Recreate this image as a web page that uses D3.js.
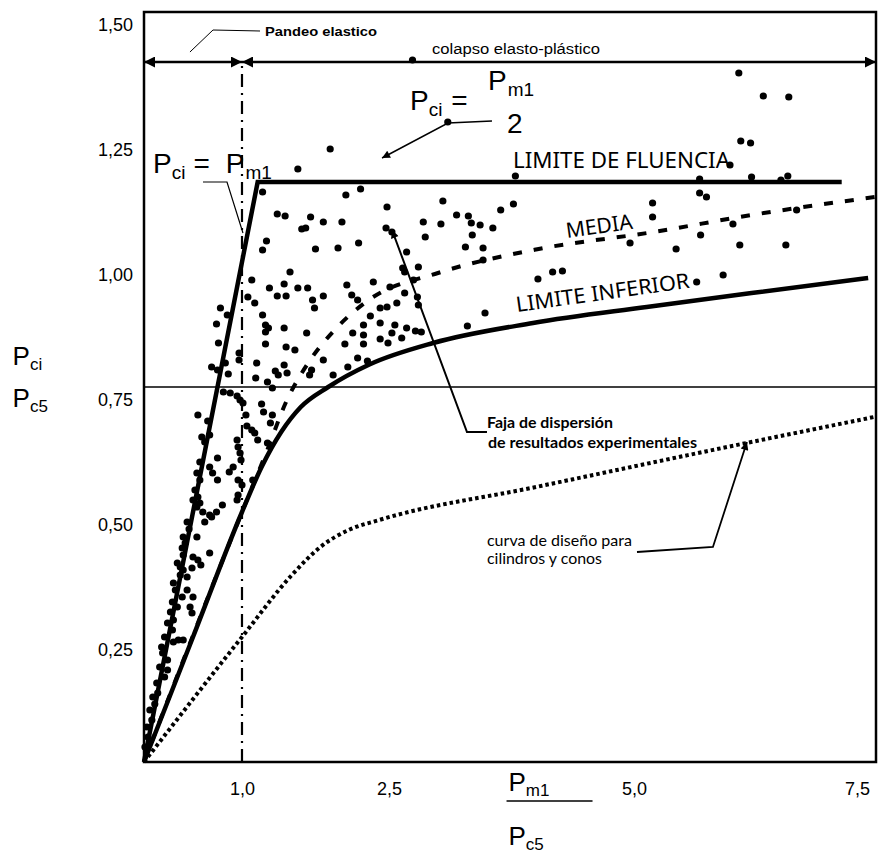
<!DOCTYPE html>
<html>
<head>
<meta charset="utf-8">
<style>
  body { margin: 0; background: #fff; }
  svg { display: block; }
  .num { font-family: "Liberation Sans", Arial, sans-serif; fill: #000; }
  .nota { font-family: "Noto Sans", sans-serif; fill: #000; }
  .chica { font-family: Lato, sans-serif; fill: #000; }
</style>
<script src="https://cdn.jsdelivr.net/npm/d3@7/dist/d3.min.js"></script>
<title>Pci/Pc5 vs Pm1/Pc5</title>
</head>
<body>
<div id="chart"></div>
<script>
// resultados experimentales: [Pm1/Pc5, Pci/Pc5]
const ensayos = [
  [2.74,1.404],[1.90,1.226],[1.57,1.186],[3.10,1.28],[3.79,1.172],
  [6.07,1.378],[6.32,1.332],[6.58,1.33],[6.09,1.242],[6.19,1.238],
  [5.98,1.194],[5.67,1.166],[6.20,1.17],[6.57,1.172],[6.50,1.164],
  [1.21,1.14],[2.06,1.134],[2.21,1.146],[1.36,1.096],[1.44,1.092],
  [1.70,1.09],[1.83,1.08],[2.02,1.08],[1.61,1.066],[1.65,1.068],
  [2.48,1.11],[2.47,1.068],[2.53,1.06],[2.85,1.08],[3.05,1.122],
  [3.03,1.076],[2.87,1.05],[3.19,1.094],[3.31,1.092],[3.34,1.078],
  [3.43,1.074],[3.56,1.068],[3.35,1.054],[3.64,1.104],[3.77,1.116],
  [2.19,1.038],[1.75,1.026],[1.98,1.028],[3.28,1.03],[3.46,1.028],
  [1.25,1.042],[1.21,1.024],[2.68,1.02],[2.64,0.988],[2.66,0.98],
  [2.80,0.99],[2.75,0.964],[2.79,0.93],[2.80,0.914],[3.46,1.004],
  [4.02,0.966],[4.17,0.98],[4.27,0.982],[3.48,0.898],[3.30,0.872],
  [4.96,1.038],[5.19,1.118],[5.19,1.09],[5.67,1.138],[5.74,1.13],
  [6.01,1.076],[5.68,1.054],[6.66,1.104],[5.43,1.026],[6.08,1.034],
  [6.55,1.034],[5.91,0.974],[5.64,0.96],
  [1.49,0.98],[1.10,0.964],[1.43,0.956],[1.28,0.948],[1.57,0.948],
  [1.67,0.948],[1.36,0.932],[1.45,0.932],[1.06,0.93],[1.13,0.918],
  [1.72,0.924],[1.74,0.908],[1.83,0.932],[2.07,0.954],[2.12,0.934],
  [2.18,0.924],[2.34,0.96],[2.51,0.95],[2.66,0.938],[2.58,0.918],
  [2.41,0.908],[2.48,0.91],[2.31,0.892],[2.24,0.874],[2.41,0.878],
  [2.56,0.874],[2.68,0.868],[2.77,0.862],[2.83,0.86],[2.13,0.858],
  [2.24,0.854],[2.53,0.858],[2.41,0.846],[2.49,0.838],[2.63,0.848],
  [2.05,0.836],[2.24,0.836],[1.66,0.858],[1.83,0.804],[2.18,0.808],
  [2.28,0.802],[2.08,0.79],[1.71,0.784],[1.69,0.774],[1.93,0.774],
  [0.78,0.908],[0.85,0.894],[1.21,0.894],[0.74,0.876],[1.24,0.874],
  [1.27,0.868],[1.24,0.86],[1.43,0.868],[0.76,0.838],[1.24,0.836],
  [1.45,0.83],[1.54,0.824],[0.97,0.818],[0.97,0.804],[1.15,0.798],
  [0.69,0.79],[0.75,0.784],[0.83,0.798],[1.34,0.782],[1.37,0.774],
  [1.43,0.794],[1.46,0.778],[0.86,0.776],[1.14,0.768],[1.26,0.76],
  [1.31,0.748],[0.88,0.738],[0.95,0.732],[0.81,0.74],[0.98,0.724],
  [1.01,0.718],[1.20,0.716],
  [0.55,0.694],[0.65,0.682],[1.04,0.694],[1.22,0.70],[1.31,0.694],
  [1.29,0.678],[1.05,0.672],[0.59,0.65],[0.67,0.654],[0.62,0.64],
  [1.10,0.664],[1.13,0.658],[1.16,0.644],[0.95,0.644],[0.96,0.63],
  [0.98,0.618],[0.99,0.604],[1.26,0.638],[0.75,0.608],[0.91,0.59],
  [0.87,0.58],[0.67,0.59],[0.70,0.578],[0.75,0.564],[0.96,0.564],
  [1.00,0.554],[1.11,0.564],[0.54,0.578],[0.57,0.564],[0.57,0.60],
  [0.50,0.524],[0.57,0.518],[0.54,0.51],[0.80,0.514],[0.96,0.534],
  [0.60,0.50],[0.67,0.494],[0.52,0.544],[0.55,0.53],[0.62,0.48],
  [0.69,0.49],[0.74,0.50],[0.95,0.524],[0.44,0.48],[0.46,0.466],
  [0.54,0.45],[0.40,0.45],[0.42,0.438],[0.39,0.428],[0.40,0.414],
  [0.67,0.418],[0.50,0.41],[0.55,0.404],[0.58,0.394],[0.34,0.398],
  [0.37,0.39],[0.40,0.384],[0.37,0.374],[0.44,0.37],[0.49,0.388],
  [0.30,0.358],[0.50,0.33],[0.49,0.298],[0.27,0.30],[0.24,0.278],
  [0.35,0.244],[0.30,0.24],[0.40,0.244],[0.19,0.218],[0.24,0.184],
  [0.16,0.19],[0.13,0.158],[0.09,0.13],[0.06,0.104],[0.03,0.07],
  [0.01,0.03],[0.32,0.344],[0.39,0.33],[0.44,0.344],[0.29,0.32],
  [0.34,0.31],[0.47,0.31],[0.30,0.284],[0.29,0.264],[0.21,0.25],
  [0.18,0.23],[0.24,0.204],[0.21,0.17],[0.14,0.138],[0.11,0.116],
  [0.08,0.084],[0.04,0.05]
];

// curvas
const limiteFluencia = [[0, 0], [1.16, 1.16], [7.12, 1.16]];
const media = [[0, 0], [1.0, 0.5], [1.25, 0.62], [1.45, 0.72], [1.7, 0.805], [1.95, 0.865],
  [2.3, 0.925], [3.0, 0.978], [4.0, 1.025], [5.2, 1.06], [6.2, 1.094], [7.46, 1.13]];
const limiteInferior = [[0, 0], [0.5, 0.25], [1.0, 0.5], [1.2, 0.59], [1.4, 0.66], [1.6, 0.71],
  [1.88, 0.75], [2.3, 0.795], [2.95, 0.838], [3.97, 0.878], [5.13, 0.91], [6.2, 0.938], [7.39, 0.968]];
const curvaDiseno = [[0, 0], [1.0, 0.25], [1.5, 0.372], [1.8, 0.43], [2.1, 0.465], [2.4, 0.484],
  [4.0, 0.55], [6.0, 0.632], [7.45, 0.69]];

const xTicks = [1.0, 2.5, 5.0, 7.5];
const yTicks = [0.25, 0.50, 0.75, 1.00, 1.25, 1.50];
const xLimite = 1.0;     // pandeo elastico / colapso elasto-plastico
const yReferencia = 0.75;
const yFlechas = 1.40;

// SVG setup
const width = 888, height = 859, margin = { top: 12, right: 12, bottom: 97, left: 144 };
const svg = d3.select("#chart").append("svg")
  .attr("width", width)
  .attr("height", height);

const x = d3.scaleLinear().domain([0, 7.47]).range([margin.left, width - margin.right]);
const y = d3.scaleLinear().domain([0, 1.5]).range([height - margin.bottom, margin.top]);
const coma = f => v => f(v).replace(".", ",");

// flechas
const defs = svg.append("defs");
defs.append("marker").attr("id", "flecha")
  .attr("viewBox", "0 0 10 10").attr("refX", 10).attr("refY", 5)
  .attr("markerWidth", 14).attr("markerHeight", 11).attr("markerUnits", "userSpaceOnUse")
  .attr("orient", "auto-start-reverse")
  .append("path").attr("d", "M0,0 L10,5 L0,10 z");
defs.append("marker").attr("id", "flechita")
  .attr("viewBox", "0 0 10 10").attr("refX", 10).attr("refY", 5)
  .attr("markerWidth", 12).attr("markerHeight", 8).attr("markerUnits", "userSpaceOnUse")
  .attr("orient", "auto")
  .append("path").attr("d", "M0,0 L10,5 L0,10 z");

// marco
svg.append("rect")
  .attr("x", x(0)).attr("y", y(1.5))
  .attr("width", x(7.47) - x(0)).attr("height", y(0) - y(1.5))
  .attr("fill", "none").attr("stroke", "#000").attr("stroke-width", 2.5);

// ejes (solo rotulos)
const ejeY = svg.append("g").attr("class", "num")
  .attr("transform", `translate(${x(0)},0)`)
  .call(d3.axisLeft(y).tickValues(yTicks).tickFormat(coma(d3.format(".2f"))).tickSize(0).tickPadding(11));
ejeY.select(".domain").remove();
ejeY.selectAll("text").attr("font-size", 18).attr("font-family", null)
  .attr("transform", "translate(0,13)");

const ejeX = svg.append("g").attr("class", "num")
  .attr("transform", `translate(0,${y(0)})`)
  .call(d3.axisBottom(x).tickValues(xTicks).tickFormat(coma(d3.format(".1f"))).tickSize(0).tickPadding(20));
ejeX.select(".domain").remove();
ejeX.selectAll("text").attr("font-size", 18).attr("font-family", null)
  .attr("dx", d => d === 7.5 ? -22 : 0);

// linea horizontal de referencia
svg.append("line")
  .attr("x1", x(0)).attr("x2", x(7.47))
  .attr("y1", y(yReferencia)).attr("y2", y(yReferencia))
  .attr("stroke", "#000").attr("stroke-width", 1.3);

// linea punto-raya en Pm1/Pc5 = 1
svg.append("line")
  .attr("x1", x(xLimite)).attr("x2", x(xLimite))
  .attr("y1", y(0)).attr("y2", y(yFlechas))
  .attr("stroke", "#000").attr("stroke-width", 2.2)
  .attr("stroke-dasharray", "13 6 2 6");

// flechas dobles
[[0, xLimite], [xLimite, 7.47]].forEach(([a, b]) => {
  svg.append("line")
    .attr("x1", x(a)).attr("x2", x(b))
    .attr("y1", y(yFlechas)).attr("y2", y(yFlechas))
    .attr("stroke", "#000").attr("stroke-width", 2.5)
    .attr("marker-start", "url(#flecha)").attr("marker-end", "url(#flecha)");
});

// curvas
const linea = d3.line().x(d => x(d[0])).y(d => y(d[1]));
const curva = d3.line().x(d => x(d[0])).y(d => y(d[1])).curve(d3.curveMonotoneX);

svg.append("path").datum(limiteFluencia).attr("d", linea)
  .attr("fill", "none").attr("stroke", "#000").attr("stroke-width", 4.5).attr("stroke-linejoin", "miter");
svg.append("path").datum(limiteInferior).attr("d", curva)
  .attr("fill", "none").attr("stroke", "#000").attr("stroke-width", 4.5);
svg.append("path").datum(media).attr("d", curva)
  .attr("fill", "none").attr("stroke", "#000").attr("stroke-width", 4)
  .attr("stroke-dasharray", "9 12");
svg.append("path").datum(curvaDiseno).attr("d", curva)
  .attr("fill", "none").attr("stroke", "#000").attr("stroke-width", 4)
  .attr("stroke-dasharray", "3.5 3");

// puntos
svg.append("g").selectAll("circle").data(ensayos).join("circle")
  .attr("cx", d => x(d[0])).attr("cy", d => y(d[1]))
  .attr("r", 3.6).attr("fill", "#000");

// lineas de llamada
const guia = (pts, w, flecha) => {
  const p = svg.append("path").datum(pts).attr("d", linea)
    .attr("fill", "none").attr("stroke", "#000").attr("stroke-width", w);
  if (flecha) p.attr("marker-end", "url(#flechita)");
};
guia([[0.469, 1.42], [0.704, 1.464], [1.184, 1.462]], 1, false);
guia([[0.602, 1.16], [0.847, 1.16], [1.01, 1.058]], 1.2, false);
guia([[3.551, 1.282], [3.102, 1.278], [2.429, 1.208]], 1.5, true);
guia([[3.5, 0.66], [3.296, 0.66], [2.531, 1.064]], 2, true);
guia([[5.031, 0.42], [5.806, 0.43], [6.153, 0.64]], 1.8, true);

// textos
const texto = (xv, yv, str, size, cls, len, ang, peso) => {
  const t = svg.append("text").attr("class", cls)
    .attr("transform", `translate(${x(xv)},${y(yv)})` + (ang ? ` rotate(${ang})` : ""))
    .attr("font-size", size).text(str);
  if (len) t.attr("textLength", len).attr("lengthAdjust", "spacingAndGlyphs");
  if (peso) t.attr("font-weight", peso);
  return t;
};
texto(1.235, 1.452, "Pandeo elastico", 13, "num", 112, 0, 700);
texto(2.939, 1.416, "colapso elasto-plástico", 14, "num", 168);
texto(3.765, 1.188, "LIMITE DE FLUENCIA", 21, "nota", 217);
texto(4.316, 1.048, "MEDIA", 21, "nota", 67, -8);
texto(3.806, 0.90, "LIMITE INFERIOR", 21, "nota", 175, -8);
texto(3.5, 0.668, "Faja de dispersión", 15, "chica", 126, 0, 700);
texto(3.51, 0.628, "de resultados experimentales", 15, "chica", 209, 0, 700);
texto(3.5, 0.432, "curva de diseño para", 15, "chica", 145, 0, 400);
texto(3.5, 0.396, "cilindros y conos", 15, "chica", 115, 0, 400);

// formulas con subindice
const formula = (xv, yv, partes) => {
  const t = svg.append("text").attr("class", "num")
    .attr("x", x(xv)).attr("y", y(yv));
  partes.forEach(([s, size, dy, dx]) => {
    t.append("tspan").attr("font-size", size).attr("dy", dy).attr("dx", dx || 0).text(s);
  });
};
formula(0.092, 1.178, [["P", 28, 0], ["ci", 19, 6], ["=", 28, -6, 8], ["P", 28, 0, 16], ["m1", 19, 6, 1]]);
formula(2.714, 1.304, [["P", 28, 0], ["ci", 19, 6], ["=", 28, -6, 9]]);
formula(3.51, 1.344, [["P", 28, 0], ["m1", 19, 6, 1]]);
formula(3.704, 1.258, [["2", 28, 0]]);

// titulos de ejes
const tituloY = (yv, sub) => formula(-1.341, yv, [["P", 26, 0], [sub, 17, 5]]);
tituloY(0.794, "ci");
tituloY(0.71, "c5");

const fx = x(3.72);
svg.append("text").attr("class", "num").attr("x", fx).attr("y", 791)
  .call(t => { t.append("tspan").attr("font-size", 26).text("P");
               t.append("tspan").attr("font-size", 17).attr("dy", 5).text("m1"); });
svg.append("line").attr("x1", fx - 2).attr("x2", fx + 84).attr("y1", 801).attr("y2", 801)
  .attr("stroke", "#000").attr("stroke-width", 1.5);
svg.append("text").attr("class", "num").attr("x", fx).attr("y", 845)
  .call(t => { t.append("tspan").attr("font-size", 26).text("P");
               t.append("tspan").attr("font-size", 17).attr("dy", 5).text("c5"); });
</script>
</body>
</html>
